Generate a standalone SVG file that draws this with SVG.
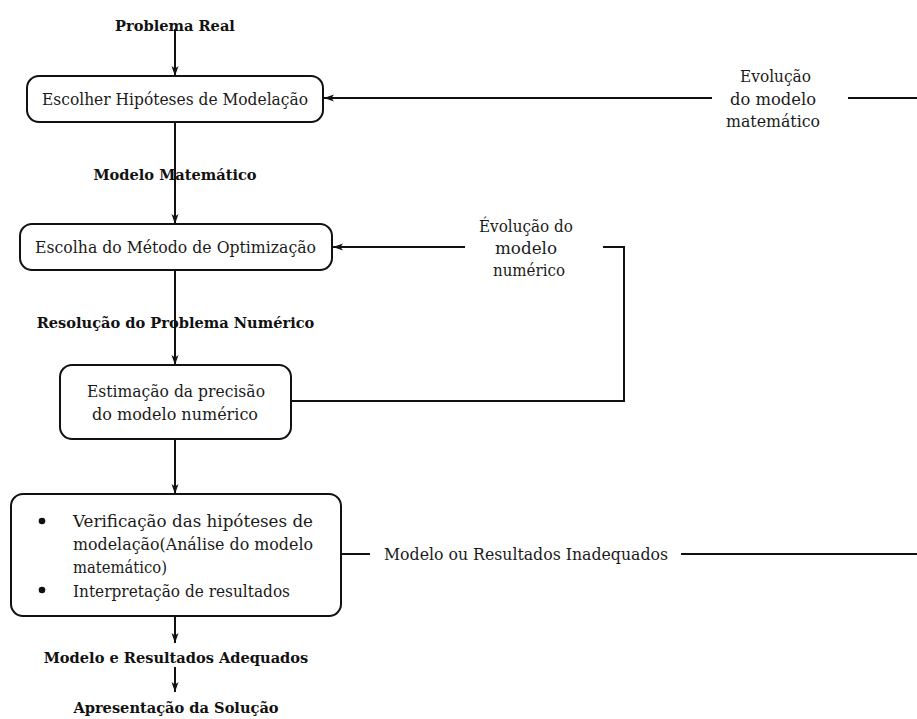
<svg xmlns="http://www.w3.org/2000/svg" width="917" height="719" viewBox="0 0 917 719">
  <defs>
    <style>
      .box { fill: #ffffff; stroke: #111111; stroke-width: 2; }
      .wire { fill: none; stroke: #111111; stroke-width: 2; }
      .txt { font-family: "DejaVu Serif", "Liberation Serif", serif; font-size: 16.2px; fill: #1a1a1a; }
      .lbl { font-family: "DejaVu Serif", "Liberation Serif", serif; font-size: 14.6px; font-weight: bold; fill: #111111; }
      .mid { text-anchor: middle; }
    </style>
    <marker id="arrow" viewBox="0 0 10 8" refX="10" refY="4" markerWidth="10" markerHeight="8" markerUnits="userSpaceOnUse" orient="auto">
      <path d="M0,0.5 L10,4 L0,7.5 L2.5,4 Z" fill="#111111"/>
    </marker>
  </defs>

  <rect width="917" height="719" fill="#ffffff"/>

  <!-- connectors -->
  <g id="connectors">
    <line class="wire" x1="175" y1="29" x2="175" y2="76" marker-end="url(#arrow)"/>
    <line class="wire" x1="175" y1="122" x2="175" y2="224" marker-end="url(#arrow)"/>
    <line class="wire" x1="175" y1="270" x2="175" y2="365" marker-end="url(#arrow)"/>
    <line class="wire" x1="175" y1="439" x2="175" y2="494" marker-end="url(#arrow)"/>
    <line class="wire" x1="175" y1="616" x2="175" y2="643" marker-end="url(#arrow)"/>
    <line class="wire" x1="175" y1="667" x2="175" y2="692" marker-end="url(#arrow)"/>

    <!-- mathematical model feedback -->
    <line class="wire" x1="712" y1="98" x2="324" y2="98" marker-end="url(#arrow)"/>
    <line class="wire" x1="848" y1="98" x2="917" y2="98"/>

    <!-- numerical model feedback -->
    <line class="wire" x1="465" y1="247" x2="333" y2="247" marker-end="url(#arrow)"/>
    <polyline class="wire" points="603,247 624,247 624,401 291,401"/>

    <!-- inadequate result -->
    <line class="wire" x1="341" y1="554" x2="370" y2="554"/>
    <line class="wire" x1="681" y1="554" x2="917" y2="554"/>
  </g>

  <!-- labels along the main flow -->
  <g id="label-problema-real">
    <text class="lbl mid" x="175" y="31">Problema Real</text>
  </g>
  <g id="label-modelo-matematico">
    <text class="lbl mid" x="175" y="180">Modelo Matemático</text>
  </g>
  <g id="label-resolucao">
    <text class="lbl mid" x="175.5" y="328">Resolução do Problema Numérico</text>
  </g>
  <g id="label-adequados">
    <text class="lbl mid" x="176" y="663">Modelo e Resultados Adequados</text>
  </g>
  <g id="label-apresentacao">
    <text class="lbl mid" x="176" y="713">Apresentação da Solução</text>
  </g>

  <!-- process boxes -->
  <g id="node-hipoteses">
    <rect class="box" x="27" y="76" width="296" height="46" rx="12"/>
    <text class="txt mid" x="175" y="104.5" textLength="266" lengthAdjust="spacingAndGlyphs">Escolher Hipóteses de Modelação</text>
  </g>
  <g id="node-metodo">
    <rect class="box" x="20" y="224" width="312" height="46" rx="12"/>
    <text class="txt mid" x="175.5" y="252.5" textLength="281" lengthAdjust="spacingAndGlyphs">Escolha do Método de Optimização</text>
  </g>
  <g id="node-estimacao">
    <rect class="box" x="60" y="365" width="231" height="74" rx="12"/>
    <text class="txt mid" x="176" y="397" textLength="178" lengthAdjust="spacingAndGlyphs">Estimação da precisão</text>
    <text class="txt mid" x="175" y="420" textLength="166" lengthAdjust="spacingAndGlyphs">do modelo numérico</text>
  </g>
  <g id="node-verificacao">
    <rect class="box" x="11" y="494" width="330" height="122" rx="12"/>
    <circle cx="42" cy="521" r="3.3" fill="#111111"/>
    <circle cx="42" cy="590" r="3.3" fill="#111111"/>
    <text class="txt" x="73" y="527" textLength="240" lengthAdjust="spacingAndGlyphs">Verificação das hipóteses de</text>
    <text class="txt" x="73" y="550" textLength="240" lengthAdjust="spacingAndGlyphs">modelação(Análise do modelo</text>
    <text class="txt" x="73" y="573" textLength="94" lengthAdjust="spacingAndGlyphs">matemático)</text>
    <text class="txt" x="73" y="597" textLength="217" lengthAdjust="spacingAndGlyphs">Interpretação de resultados</text>
  </g>

  <!-- feedback labels -->
  <g id="label-evolucao-matematico">
    <text class="txt mid" x="775.5" y="82" textLength="71" lengthAdjust="spacingAndGlyphs">Evolução</text>
    <text class="txt mid" x="773" y="104.5" textLength="86" lengthAdjust="spacingAndGlyphs">do modelo</text>
    <text class="txt mid" x="773" y="127" textLength="94" lengthAdjust="spacingAndGlyphs">matemático</text>
  </g>
  <g id="label-evolucao-numerico">
    <text class="txt mid" x="526" y="231.5" textLength="94" lengthAdjust="spacingAndGlyphs">Évolução do</text>
    <text class="txt mid" x="526" y="253.5" textLength="62" lengthAdjust="spacingAndGlyphs">modelo</text>
    <text class="txt mid" x="529" y="275.5" textLength="72" lengthAdjust="spacingAndGlyphs">numérico</text>
  </g>
  <g id="label-inadequados">
    <text class="txt mid" x="526" y="560" textLength="284" lengthAdjust="spacingAndGlyphs">Modelo ou Resultados Inadequados</text>
  </g>
</svg>
